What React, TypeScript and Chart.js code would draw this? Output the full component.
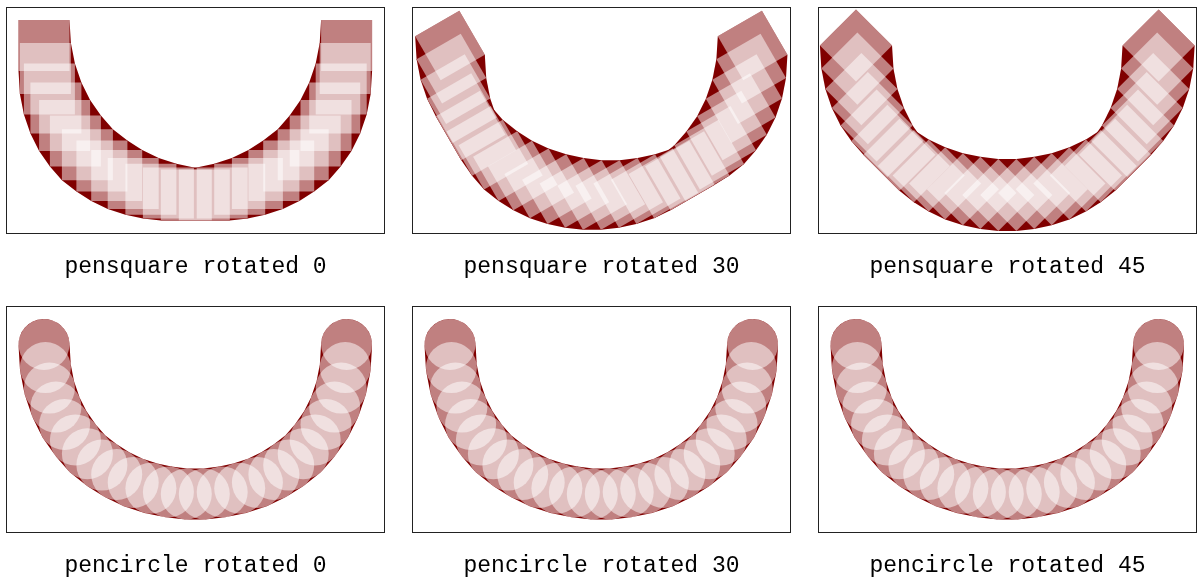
import React, { useEffect, useRef } from "react";
import { Chart, registerables } from "chart.js";

Chart.register(...registerables);

// ---- data ----
const panelLabels = [
  "pensquare rotated 0",
  "pensquare rotated 30",
  "pensquare rotated 45",
  "pencircle rotated 0",
  "pencircle rotated 30",
  "pencircle rotated 45",
];
const penKinds = ["pensquare", "pensquare", "pensquare", "pencircle", "pencircle", "pencircle"];
const penRotations = [0, 30, 45, 0, 30, 45];

// sample points of the U-shaped path (same for every panel), box units
const pathX = [
  38.0, 39.4, 43.4, 49.9, 58.6, 69.4, 81.4, 95.9, 110.7, 127.2, 144.9, 162.4, 180.3,
  198.3, 216.2, 233.7, 251.4, 267.9, 282.7, 297.2, 309.2, 320.0, 328.7, 335.2, 339.2, 340.6,
];
const pathY = [
  38.5, 61.6, 82.1, 101.1, 118.5, 133.9, 147.7, 159.1, 168.5, 176.4, 182.2, 185.9, 188.0,
  188.0, 185.9, 182.2, 176.4, 168.5, 159.1, 147.7, 133.9, 118.5, 101.1, 82.1, 61.6, 38.5,
];

// ---- layout / style ----
const PANEL_LEFT = [6, 412, 818];
const PANEL_TOP = [7, 306];
const AREA_W = 379;
const AREA_H = 227;
const TITLE_PAD = 19;
const TITLE_LINE = 28;
const PEN_HALF = 25.5;
const MAROON = "#800000";
const OVERLAY = "rgba(255,255,255,0.5)";

const boxBorder = {
  id: "boxBorder",
  afterDatasetsDraw(chart: any) {
    const { ctx, chartArea: a } = chart;
    ctx.save();
    ctx.strokeStyle = "#222";
    ctx.lineWidth = 1;
    ctx.strokeRect(a.left + 0.5, a.top + 0.5, a.right - a.left - 1, a.bottom - a.top - 1);
    ctx.restore();
  },
};

type P = { x: number; y: number };

function squareCorners(c: P, rotDeg: number): P[] {
  const r = PEN_HALF * Math.SQRT2;
  const base = ((-rotDeg + 45) * Math.PI) / 180;
  const out: P[] = [];
  for (let k = 0; k < 4; k++) {
    const ang = base + (k * Math.PI) / 2;
    out.push({ x: c.x + r * Math.cos(ang), y: c.y + r * Math.sin(ang) });
  }
  return out;
}

function convexHull(pts: P[]): P[] {
  const p = [...pts].sort((a, b) => a.x - b.x || a.y - b.y);
  const cross = (o: P, a: P, b: P) => (a.x - o.x) * (b.y - o.y) - (a.y - o.y) * (b.x - o.x);
  const lower: P[] = [];
  for (const q of p) {
    while (lower.length >= 2 && cross(lower[lower.length - 2], lower[lower.length - 1], q) <= 0) lower.pop();
    lower.push(q);
  }
  const upper: P[] = [];
  for (let i = p.length - 1; i >= 0; i--) {
    const q = p[i];
    while (upper.length >= 2 && cross(upper[upper.length - 2], upper[upper.length - 1], q) <= 0) upper.pop();
    upper.push(q);
  }
  lower.pop();
  upper.pop();
  return lower.concat(upper);
}

function PenPanel({ index }: { index: number }) {
  const ref = useRef<HTMLCanvasElement>(null);
  useEffect(() => {
    const canvas = ref.current;
    if (!canvas) return;
    const isSquare = penKinds[index] === "pensquare";
    const rot = penRotations[index];
    const pts: P[] = pathX.map((x, i) => ({ x, y: pathY[i] }));
    const pointStyle = isSquare ? "rect" : "circle";
    const radius = isSquare ? PEN_HALF * Math.SQRT2 : PEN_HALF;
    const rotation = isSquare ? -rot : 0;

    const datasets: any[] = [
      {
        label: "pen",
        data: pts,
        order: 1,
        showLine: false,
        pointStyle,
        pointRadius: radius,
        pointHoverRadius: radius,
        pointRotation: rotation,
        pointBackgroundColor: OVERLAY,
        pointBorderWidth: 0,
      },
    ];

    if (isSquare) {
      // the path drawn with the square pen: union of the swept pen between samples
      for (let i = 0; i < pts.length - 1; i++) {
        const hull = convexHull([...squareCorners(pts[i], rot), ...squareCorners(pts[i + 1], rot)]);
        datasets.push({
          label: "stroke" + i,
          type: "line",
          data: hull,
          order: 2,
          showLine: true,
          tension: 0,
          borderWidth: 0,
          borderColor: MAROON,
          backgroundColor: MAROON,
          fill: "shape",
          pointRadius: 0,
          pointHoverRadius: 0,
        });
      }
    } else {
      datasets.push({
        label: "stroke",
        type: "line",
        data: pts,
        order: 2,
        showLine: true,
        tension: 0,
        borderColor: MAROON,
        borderWidth: 2 * PEN_HALF,
        borderJoinStyle: "round",
        borderCapStyle: "round",
        fill: false,
        pointRadius: 0,
        pointHoverRadius: 0,
      });
    }

    const chart = new Chart(canvas, {
      type: "scatter",
      data: { datasets },
      options: {
        responsive: false,
        animation: false,
        events: [],
        layout: { padding: 0, autoPadding: false },
        scales: {
          x: { type: "linear", min: 0, max: AREA_W, display: false },
          y: { type: "linear", min: 0, max: AREA_H, reverse: true, display: false },
        },
        plugins: {
          legend: { display: false },
          tooltip: { enabled: false },
          title: {
            display: true,
            position: "bottom",
            text: panelLabels[index],
            color: "#000",
            font: {
              family: '"Liberation Mono", "DejaVu Sans Mono", monospace',
              size: 23,
              weight: "normal",
              lineHeight: TITLE_LINE + "px",
            },
            padding: { top: TITLE_PAD, bottom: 0 },
          },
        },
      } as any,
      plugins: [boxBorder],
    });
    return () => chart.destroy();
  }, [index]);

  const col = index % 3;
  const row = Math.floor(index / 3);
  return (
    <canvas
      ref={ref}
      width={AREA_W}
      height={AREA_H + TITLE_PAD + TITLE_LINE}
      style={{
        position: "absolute",
        left: PANEL_LEFT[col],
        top: PANEL_TOP[row],
        width: AREA_W,
        height: AREA_H + TITLE_PAD + TITLE_LINE,
      }}
    />
  );
}

export default function App() {
  return (
    <div style={{ position: "absolute", left: 0, top: 0, width: 1197, height: 577, background: "#fff" }}>
      {panelLabels.map((_, i) => (
        <PenPanel key={i} index={i} />
      ))}
    </div>
  );
}
